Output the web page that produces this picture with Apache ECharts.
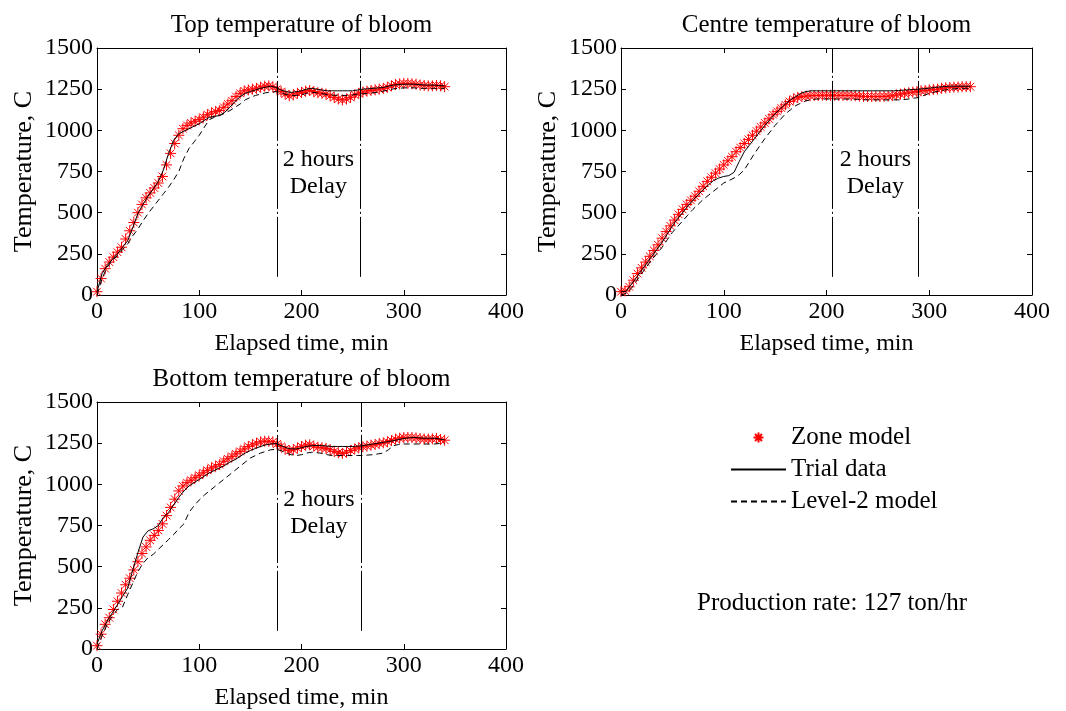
<!DOCTYPE html>
<html>
<head>
<meta charset="utf-8">
<script src="https://cdn.jsdelivr.net/npm/echarts@6/dist/echarts.min.js"></script>
<style>
html,body{margin:0;padding:0;background:#fff;}
#chart{width:1066px;height:711px;}
</style>
</head>
<body>
<div id="chart"></div>
<script>
// ---------------- DATA ----------------
const panelTitles = ['Top temperature of bloom', 'Centre temperature of bloom', 'Bottom temperature of bloom'];
const seriesNames = ['Zone model', 'Trial data', 'Level-2 model'];
const xTicks = [0, 100, 200, 300, 400];
const yTicks = [0, 250, 500, 750, 1000, 1250, 1500];
const delayLabel = '2 hours\nDelay';
const noteText = 'Production rate: 127 ton/hr';

// sample times (min)
const zoneTime = [0,4,8,12,16,20,24,28,32,36,40,44,48,52,56,60,64,68,72,76,80,84,88,92,96,100,104,108,112,116,120,124,128,132,136,140,144,148,152,156,160,164,168,172,176,180,184,188,192,196,200,204,208,212,216,220,224,228,232,236,240,244,248,252,256,260,264,268,272,276,280,284,288,292,296,300,304,308,312,316,320,324,328,332,336,340];
const lineTime = [0,5,10,15,20,25,30,35,40,45,50,55,60,65,70,75,80,85,90,95,100,105,110,115,120,125,130,135,140,145,150,155,160,165,170,175,180,185,190,195,200,205,210,215,220,225,230,235,240,245,250,255,260,265,270,275,280,285,290,295,300,305,310,315,320,325,330,335,340];

// Top of bloom
const topZone = [20,100,160,200,230,260,290,340,390,440, 500,550,590,620,650,680,720,790,860,920, 970,1010,1030,1045,1055,1065,1080,1095,1105,1115, 1120,1140,1160,1180,1205,1225,1240,1245,1250,1255, 1262,1268,1270,1265,1250,1235,1220,1210,1215,1225, 1230,1238,1242,1235,1228,1225,1220,1210,1200,1190, 1185,1190,1200,1215,1225,1232,1238,1242,1246,1250, 1255,1262,1270,1278,1282,1285,1285,1283,1280,1275, 1272,1270,1270,1272,1270,1265];
const topTrial = [20,130,180,215,250,290,330,410,495,550, 600,645,690,760,860,940,980,995,1010,1025, 1040,1060,1080,1085,1090,1110,1140,1175,1205,1225, 1235,1245,1255,1262,1268,1260,1245,1235,1230,1235, 1240,1250,1255,1250,1245,1240,1240,1240,1240,1240, 1240,1245,1250,1252,1255,1258,1260,1268,1275,1278, 1280,1280,1280,1278,1275,1275,1275,1272,1270];
const topLevel2 = [0,100,170,210,240,275,310,360,400,450, 495,535,575,615,655,700,750,830,890,930, 970,1020,1065,1080,1090,1105,1120,1140,1160,1185, 1200,1212,1220,1228,1232,1235,1228,1218,1212,1212, 1215,1225,1232,1228,1222,1218,1215,1212,1212,1212, 1215,1220,1222,1225,1228,1232,1238,1245,1252,1255, 1258,1258,1258,1255,1255,1255,1255,1255,1255];

// Centre of bloom
const centreZone = [20,25,50,90,130,165,200,235,270,305, 345,385,420,455,490,520,550,575,600,630, 660,690,715,740,765,790,815,840,870,895, 920,945,970,995,1020,1045,1070,1095,1115,1135, 1155,1175,1190,1200,1205,1208,1210,1212,1212,1213, 1213,1213,1213,1212,1212,1212,1211,1210,1208,1206, 1205,1205,1205,1205,1206,1208,1210,1215,1220,1225, 1228,1232,1235,1240,1242,1245,1248,1250,1255,1258, 1260,1262,1263,1265,1265,1265];
const centreTrial = [20,22,65,105,150,192,235,278,320,370, 420,462,500,540,575,608,640,668,695,710, 720,725,745,810,870,910,950,990,1030,1065, 1100,1130,1160,1185,1205,1225,1235,1240,1240,1240, 1240,1240,1240,1240,1240,1240,1240,1240,1240,1240, 1240,1240,1240,1240,1242,1244,1246,1248,1250,1253, 1256,1260,1263,1266,1268,1268,1268,1268,1268];
const centreLevel2 = [0,10,40,85,130,172,215,252,290,335, 380,415,450,485,520,550,580,605,630,655, 680,695,710,730,760,810,860,905,950,990, 1030,1065,1100,1125,1150,1165,1180,1185,1190,1190, 1190,1190,1190,1190,1190,1190,1188,1186,1185,1185, 1185,1185,1185,1185,1185,1187,1190,1195,1200,1212, 1225,1232,1240,1245,1250,1252,1255,1255,1255];

// Bottom of bloom
const bottomZone = [20,90,150,190,240,290,340,390,430,480, 530,580,620,660,690,720,760,810,860,910, 960,990,1010,1025,1040,1055,1070,1085,1100,1110, 1120,1140,1155,1170,1185,1200,1215,1230,1240,1250, 1258,1262,1262,1258,1245,1230,1215,1205,1210,1220, 1230,1238,1240,1232,1225,1222,1218,1210,1200,1192, 1188,1195,1205,1215,1222,1228,1232,1238,1242,1248, 1252,1258,1266,1274,1280,1284,1285,1284,1282,1278, 1275,1275,1276,1278,1272,1268];
const bottomTrial = [30,110,170,220,268,320,370,480,585,680, 718,730,750,800,830,875,920,960,990,1010, 1030,1050,1070,1085,1100,1115,1135,1150,1170,1190, 1205,1218,1230,1240,1245,1248,1235,1222,1215,1215, 1222,1230,1235,1236,1235,1232,1230,1230,1230,1230, 1230,1232,1235,1240,1245,1250,1255,1260,1265,1272, 1278,1282,1285,1282,1280,1280,1280,1275,1270];
const bottomLevel2 = [0,80,150,200,240,255,330,400,470,520, 555,575,605,635,665,695,730,760,830,870, 905,935,960,985,1010,1035,1060,1085,1110,1135, 1160,1175,1190,1200,1210,1212,1205,1190,1180,1175, 1180,1190,1195,1192,1188,1180,1175,1175,1175,1175, 1175,1175,1175,1178,1180,1185,1190,1210,1235,1242, 1245,1245,1245,1245,1245,1245,1245,1248,1250];

// delay markers (start, end) in minutes
const delayTimes = [[176, 257], [206, 289], [176, 258]];
const delayLineBottom = 110;   // temperature where the delay lines stop
const delayLabelPos = [[216.5, 738], [247.5, 740], [217, 823]];

const zoneData = [topZone, centreZone, bottomZone];
const trialData = [topTrial, centreTrial, bottomTrial];
const level2Data = [topLevel2, centreLevel2, bottomLevel2];

// ---------------- CHART ----------------
const FONT = "'Liberation Serif', 'Times New Roman', serif";
const FS_TICK = 24, FS_NAME = 24, FS_YNAME = 26, FS_TITLE = 25, FS_LEG = 25, FS_DELAY = 24;
const grids = [
  {left: 97, top: 48, width: 409, height: 247},
  {left: 621, top: 48, width: 411, height: 247},
  {left: 97, top: 402, width: 409, height: 249}
];
const starPath = 'path://M5,0L5,10M0,5L10,5M1.5,1.5L8.5,8.5M8.5,1.5L1.5,8.5';
const pair = (t, v) => t.map((x, i) => [x, v[i]]);

const xAxes = [], yAxes = [], series = [], graphics = [];
grids.forEach((g, i) => {
  const tickStyle = {show: true, inside: true, length: 5, lineStyle: {color: '#000', width: 1}};
  xAxes.push({
    gridIndex: i, type: 'value', min: xTicks[0], max: xTicks[xTicks.length - 1], interval: 100,
    position: 'bottom',
    axisLine: {show: true, onZero: false, lineStyle: {color: '#000', width: 1}},
    axisTick: tickStyle,
    axisLabel: {show: true, color: '#000', fontFamily: FONT, fontSize: FS_TICK, margin: 5,
      formatter: v => String(v)},
    splitLine: {show: false},
    name: 'Elapsed time, min', nameLocation: 'middle', nameGap: 37,
    nameTextStyle: {color: '#000', fontFamily: FONT, fontSize: FS_NAME}
  });
  xAxes.push({
    gridIndex: i, type: 'value', min: xTicks[0], max: xTicks[xTicks.length - 1], interval: 100,
    position: 'top',
    axisLine: {show: true, onZero: false, lineStyle: {color: '#000', width: 1}},
    axisTick: tickStyle, axisLabel: {show: false}, splitLine: {show: false}
  });
  yAxes.push({
    gridIndex: i, type: 'value', min: yTicks[0], max: yTicks[yTicks.length - 1], interval: 250,
    position: 'left',
    axisLine: {show: true, onZero: false, lineStyle: {color: '#000', width: 1}},
    axisTick: tickStyle,
    axisLabel: {show: true, color: '#000', fontFamily: FONT, fontSize: FS_TICK, margin: 4,
      formatter: v => String(v)},
    splitLine: {show: false},
    name: 'Temperature, C', nameLocation: 'middle', nameGap: 60,
    nameTextStyle: {color: '#000', fontFamily: FONT, fontSize: FS_YNAME}
  });
  yAxes.push({
    gridIndex: i, type: 'value', min: yTicks[0], max: yTicks[yTicks.length - 1], interval: 250,
    position: 'right',
    axisLine: {show: true, onZero: false, lineStyle: {color: '#000', width: 1}},
    axisTick: tickStyle, axisLabel: {show: false}, splitLine: {show: false}
  });
  const xi = i * 2, yi = i * 2;
  series.push({
    name: seriesNames[0], type: 'scatter', xAxisIndex: xi, yAxisIndex: yi,
    data: pair(zoneTime, zoneData[i]),
    symbol: starPath, symbolSize: 11,
    itemStyle: {color: 'rgba(0,0,0,0)', borderColor: '#ff0000', borderWidth: 1, opacity: 1},
    z: 2, silent: true
  });
  series.push({
    name: seriesNames[1], type: 'line', xAxisIndex: xi, yAxisIndex: yi,
    data: pair(lineTime, trialData[i]),
    showSymbol: false, symbol: 'none',
    lineStyle: {color: '#000', width: 1, type: 'solid'},
    itemStyle: {color: '#000'},
    z: 3, silent: true,
    markLine: {
      silent: true, symbol: ['none', 'none'],
      lineStyle: {color: '#000', width: 1, type: [60, 3, 2, 3]},
      label: {show: false},
      data: delayTimes[i].map(t => [{coord: [t, delayLineBottom]}, {coord: [t, yTicks[yTicks.length - 1]]}])
    }
  });
  series.push({
    name: seriesNames[2], type: 'line', xAxisIndex: xi, yAxisIndex: yi,
    data: pair(lineTime, level2Data[i]),
    showSymbol: false, symbol: 'none',
    lineStyle: {color: '#000', width: 1, type: [6, 4]},
    itemStyle: {color: '#000'},
    z: 3, silent: true
  });
  series.push({
    name: 'delay-label', type: 'scatter', xAxisIndex: xi, yAxisIndex: yi,
    data: [delayLabelPos[i]], symbolSize: 0, silent: true,
    itemStyle: {opacity: 1},
    label: {show: true, position: 'inside', formatter: delayLabel, color: '#000',
      fontFamily: FONT, fontSize: FS_DELAY, lineHeight: 27, align: 'center', verticalAlign: 'middle'}
  });
  graphics.push({
    type: 'text', x: g.left + g.width / 2, y: g.top - 23,
    style: {text: panelTitles[i], fill: '#000', font: FS_TITLE + 'px ' + FONT, textAlign: 'center', textVerticalAlign: 'middle'}
  });
});
graphics.push({
  type: 'text', x: 697, y: 603,
  style: {text: noteText, fill: '#000', font: FS_LEG + 'px ' + FONT, textAlign: 'left', textVerticalAlign: 'middle'}
});

const chart = echarts.init(document.getElementById('chart'), null, {renderer: 'canvas'});
chart.setOption({
  animation: false,
  backgroundColor: '#fff',
  grid: grids.map(g => Object.assign({show: false, containLabel: false}, g)),
  xAxis: xAxes,
  yAxis: yAxes,
  legend: {
    orient: 'vertical', left: 725, top: 420,
    itemWidth: 55, itemHeight: 10, itemGap: 7,
    selectedMode: false,
    data: [
      {name: seriesNames[0]},
      {name: seriesNames[1], itemStyle: {opacity: 0}},
      {name: seriesNames[2], itemStyle: {opacity: 0}}
    ],
    textStyle: {color: '#000', fontFamily: FONT, fontSize: FS_LEG, padding: [0, 0, 0, 0]}
  },
  series: series,
  graphic: graphics
});
</script>
</body>
</html>
